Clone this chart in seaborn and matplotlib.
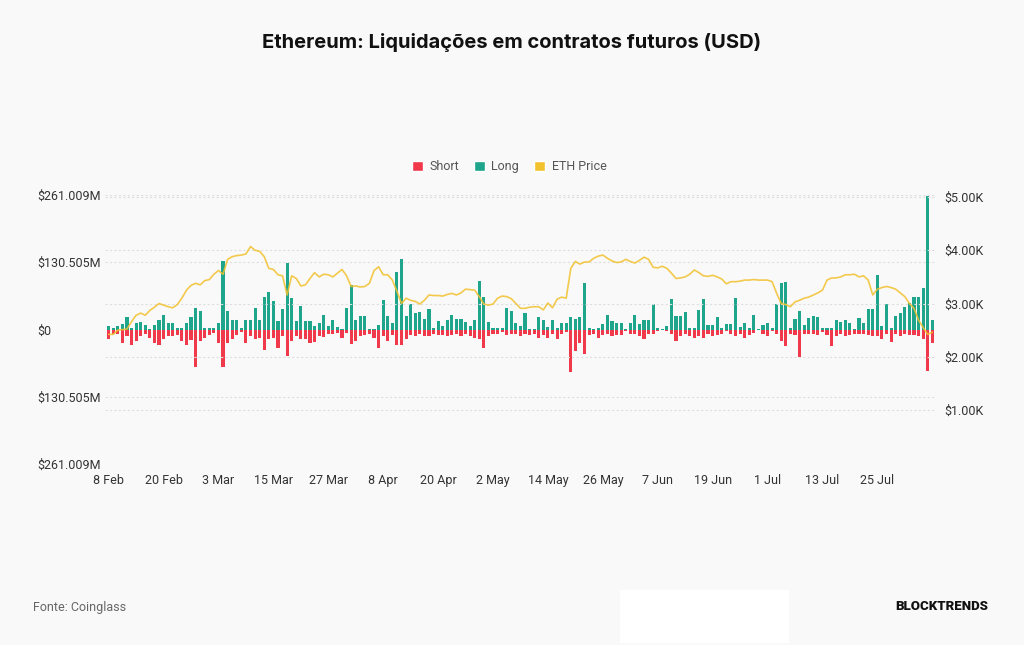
import numpy as np
import pandas as pd
import matplotlib
matplotlib.use("Agg")
import matplotlib.pyplot as plt
import seaborn as sns
from matplotlib.patches import Patch, Rectangle

# liquidações diárias (milhões USD), 8 Feb -> 6 Aug 2024
long_liq = [
    6, 2, 6, 10, 24, 2, 13, 15, 8, 1, 8, 18, 29, 13, 13, 3, 3, 12, 24, 42,
    35, 3, 3, 3, 13, 132, 35, 19, 19, 3, 19, 19, 42, 19, 64, 73, 55, 16, 39, 129,
    61, 16, 45, 16, 16, 6, 13, 29, 6, 18, 5, 0.5, 42, 87, 19, 27, 26, 0.5, 0.5, 8,
    58, 27, 12, 111, 137, 27, 50, 32, 34, 21, 39, 2, 16, 6, 18, 29, 21, 21, 14, 6,
    18, 95, 63, 14, 3, 2, 3, 42, 35, 13, 6, 32, 1, 0.5, 24, 19, 5, 18, 3, 12,
    12, 24, 21, 24, 90, 3, 0.5, 3, 11, 29, 16, 13, 13, 0.5, 13, 29, 10, 19, 19, 50,
    3, 1, 6, 60, 27, 27, 34, 3, 3, 37, 60, 8, 8, 24, 3, 10, 10, 61, 5, 12,
    3, 29, 0.5, 8, 12, 3, 50, 90, 93, 3, 21, 35, 8, 23, 27, 24, 3, 3, 3, 19,
    14, 18, 13, 1, 23, 12, 40, 40, 106, 6, 50, 3, 27, 32, 43, 52, 64, 64, 80, 259,
    18,
]
short_liq = [
    19, 8, 8, 27, 13, 30, 23, 13, 8, 16, 27, 30, 19, 13, 13, 10, 22, 30, 20, 72,
    23, 16, 10, 6, 26, 72, 26, 19, 10, 5, 26, 13, 19, 16, 39, 19, 16, 35, 13, 52,
    23, 13, 19, 19, 26, 24, 13, 14, 8, 8, 6, 16, 6, 29, 23, 13, 10, 8, 16, 35,
    13, 23, 10, 31, 31, 19, 10, 13, 8, 13, 12, 8, 10, 10, 12, 10, 8, 13, 8, 13,
    16, 19, 35, 13, 8, 8, 5, 10, 8, 8, 12, 8, 10, 8, 16, 10, 16, 8, 19, 8,
    5, 82, 42, 26, 47, 10, 8, 16, 10, 8, 13, 10, 10, 3, 8, 8, 12, 19, 8, 8,
    3, 1, 3, 8, 23, 12, 8, 13, 16, 13, 16, 8, 12, 10, 8, 3, 8, 13, 8, 16,
    10, 6, 1, 8, 13, 3, 8, 23, 32, 8, 10, 53, 8, 8, 8, 10, 5, 10, 32, 12,
    8, 13, 10, 8, 8, 8, 10, 13, 13, 18, 8, 24, 8, 12, 8, 10, 10, 13, 18, 80,
    26,
]
# preço ETH (milhares USD)
eth_price = [
    2.42, 2.42, 2.50, 2.51, 2.52, 2.66, 2.78, 2.82, 2.78, 2.87, 2.93, 3.00, 2.97, 2.94, 2.92, 2.98, 3.10, 3.25, 3.34, 3.38,
    3.35, 3.43, 3.45, 3.55, 3.62, 3.55, 3.83, 3.88, 3.90, 3.91, 3.93, 4.07, 4.00, 3.98, 3.88, 3.66, 3.64, 3.54, 3.52, 3.16,
    3.52, 3.47, 3.33, 3.35, 3.47, 3.58, 3.50, 3.55, 3.54, 3.50, 3.57, 3.64, 3.52, 3.32, 3.33, 3.31, 3.32, 3.38, 3.62, 3.69,
    3.54, 3.54, 3.44, 3.23, 3.00, 3.10, 3.06, 3.04, 2.99, 3.06, 3.16, 3.15, 3.15, 3.14, 3.17, 3.19, 3.16, 3.20, 3.27, 3.26,
    3.25, 3.13, 2.99, 2.97, 2.99, 3.10, 3.14, 3.13, 3.09, 3.00, 2.91, 2.91, 2.93, 2.94, 2.94, 2.88, 3.01, 2.92, 3.08, 3.12,
    3.10, 3.66, 3.79, 3.74, 3.78, 3.78, 3.85, 3.89, 3.91, 3.85, 3.80, 3.77, 3.78, 3.83, 3.79, 3.76, 3.81, 3.87, 3.83, 3.68,
    3.67, 3.70, 3.66, 3.57, 3.47, 3.48, 3.50, 3.55, 3.63, 3.58, 3.52, 3.51, 3.53, 3.50, 3.46, 3.37, 3.41, 3.41, 3.42, 3.44,
    3.44, 3.45, 3.44, 3.44, 3.44, 3.41, 3.19, 3.00, 2.98, 2.94, 3.03, 3.06, 3.10, 3.12, 3.16, 3.20, 3.25, 3.44, 3.48, 3.48,
    3.50, 3.54, 3.54, 3.55, 3.50, 3.52, 3.44, 3.16, 3.27, 3.30, 3.32, 3.30, 3.27, 3.20, 3.13, 3.00, 2.91, 2.69, 2.55, 2.42,
    2.46,
]
tick_labels = ["8 Feb", "20 Feb", "3 Mar", "15 Mar", "27 Mar", "8 Apr", "20 Apr", "2 May",
               "14 May", "26 May", "7 Jun", "19 Jun", "1 Jul", "13 Jul", "25 Jul"]
left_ticks = [-261.009, -130.505, 0, 130.505, 261.009]
left_labels = ["$261.009M", "$130.505M", "$0", "$130.505M", "$261.009M"]
right_ticks = [1000, 2000, 3000, 4000, 5000]
right_labels = ["$1.00K", "$2.00K", "$3.00K", "$4.00K", "$5.00K"]

SHORT = "#f03a4c"
LONG = "#1fa58b"
PRICE = "#f2c12e"
BG = "#f9f9f9"

df = pd.DataFrame({
    "day": np.arange(len(long_liq)),
    "long": long_liq,
    "short": [-v for v in short_liq],
    "price": [p * 1000 for p in eth_price],
})

sns.set_theme(style="white")
plt.rcParams["font.family"] = ["Roboto", "DejaVu Sans"]

fig = plt.figure(figsize=(10.24, 6.45), dpi=100, facecolor=BG)
ax = fig.add_axes([105 / 1024, 1 - 464 / 645, 830 / 1024, 269 / 645])
ax.set_facecolor(BG)

# eixo categórico: posição = índice do dia
sns.barplot(data=df, x="day", y="long", color=LONG, width=0.68, saturation=1,
            errorbar=None, linewidth=0, edgecolor="none", ax=ax)
sns.barplot(data=df, x="day", y="short", color=SHORT, width=0.68, saturation=1,
            errorbar=None, linewidth=0, edgecolor="none", ax=ax)
ax.set_xlim(-0.8, 180.6)
ax.set_ylim(-261.009, 261.009)

ax2 = ax.twinx()
sns.lineplot(data=df, x="day", y="price", color=PRICE, lw=1.2, alpha=0.85, ax=ax2)
ax2.set_ylim(-14, 5038)
ax2.set_xlim(-0.8, 180.6)

# grades pontilhadas
for v in left_ticks:
    if v != 0:
        ax.axhline(v, color="#dedede", lw=0.8, ls=(0, (2, 2)), zorder=0)
for v in right_ticks:
    ax2.axhline(v, color="#dedede", lw=0.8, ls=(0, (2, 2)), zorder=0)

ax.set_yticks(left_ticks)
ax.set_yticklabels(left_labels)
ax.tick_params(axis="y", length=0, pad=49, labelsize=9, labelcolor="#333333")
for t in ax.get_yticklabels():
    t.set_horizontalalignment("left")

ax2.set_yticks(right_ticks)
ax2.set_yticklabels(right_labels)
ax2.tick_params(axis="y", length=0, pad=7, labelsize=9, labelcolor="#333333")

ax.set_xticks(np.arange(0, 169, 12))
ax.set_xticklabels(tick_labels)
ax.tick_params(axis="x", length=0, pad=7, labelsize=9, labelcolor="#333333")

for a in (ax, ax2):
    a.set_xlabel("")
    a.set_ylabel("")
    for s in a.spines.values():
        s.set_visible(False)
    a.grid(False)

fig.text(0.5, 1 - 43 / 645, "Ethereum: Liquidações em contratos futuros (USD)",
         ha="center", va="center", fontsize=14.5, fontweight="bold", color="#111111",
         family=["Inter", "DejaVu Sans"])

handles = [Patch(facecolor=SHORT), Patch(facecolor=LONG), Patch(facecolor=PRICE)]
fig.legend(handles, ["Short", "Long", "ETH Price"], loc="center",
           bbox_to_anchor=(509 / 1024, 1 - 167 / 645), ncol=3, frameon=False,
           fontsize=9, handlelength=0.9, handleheight=0.9, handletextpad=0.5,
           columnspacing=1.2, labelcolor="#555555")

fig.text(33 / 1024, 1 - 607 / 645, "Fonte: Coinglass", ha="left", va="center",
         fontsize=9, color="#666666")
fig.text(988 / 1024, 1 - 607 / 645, "BLOCKTRENDS", ha="right", va="center",
         fontsize=9.5, fontweight="heavy", color="#111111")
fig.patches.append(Rectangle((620 / 1024, 2 / 645), 169 / 1024, 53 / 645,
                             transform=fig.transFigure, facecolor="white",
                             edgecolor="none"))

fig.savefig("out.png", dpi=100, facecolor=BG)
